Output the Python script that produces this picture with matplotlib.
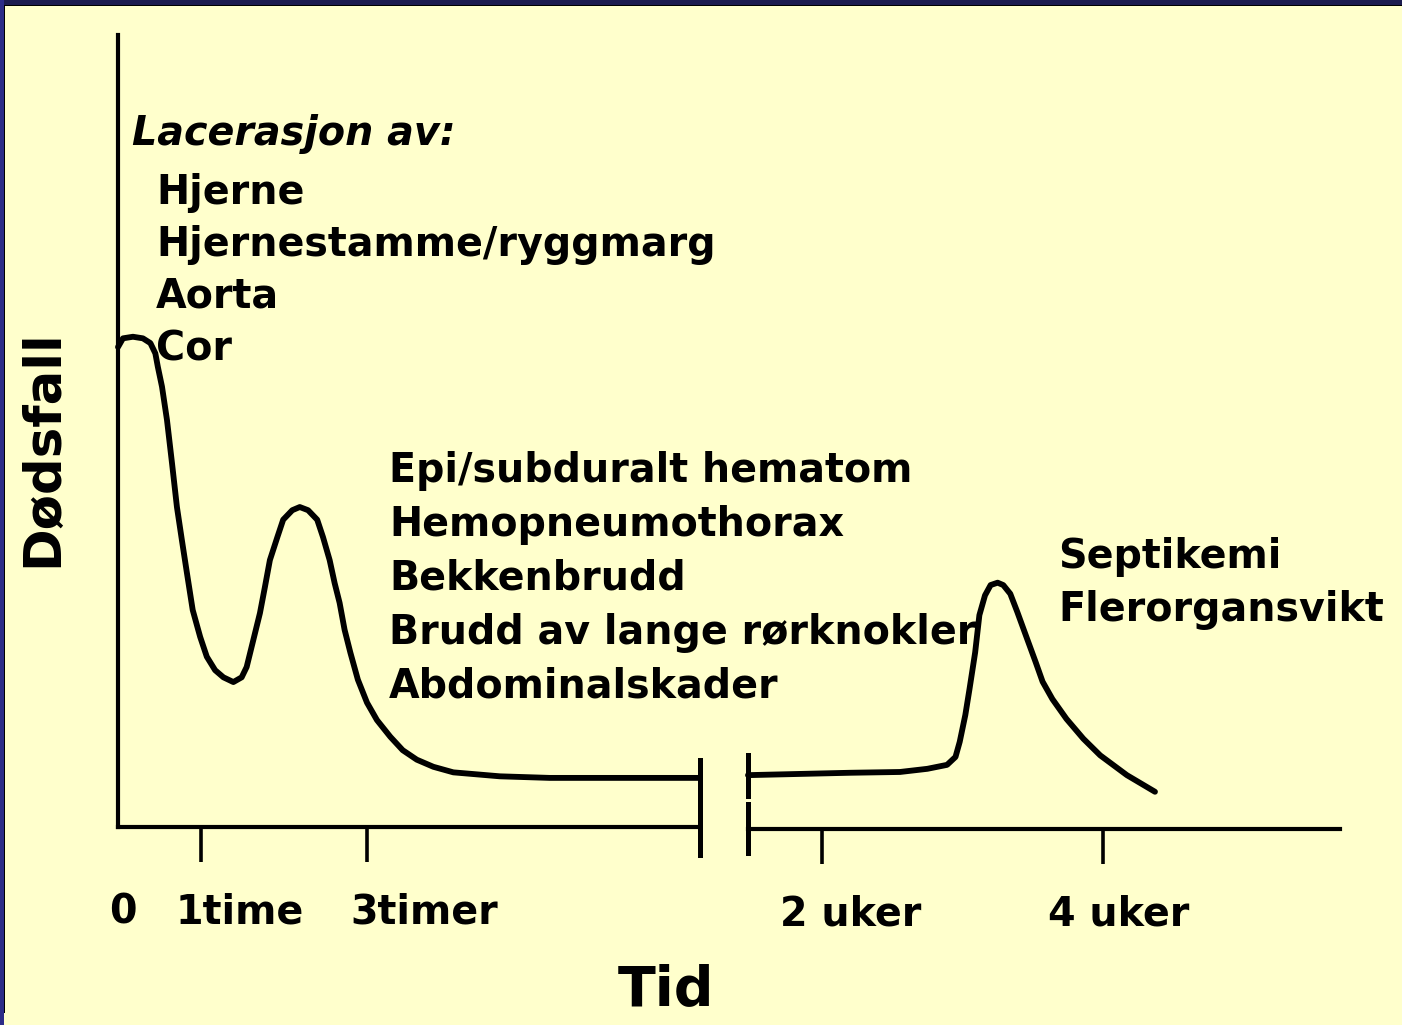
import matplotlib.pyplot as plt
from matplotlib.patches import Rectangle
import numpy as np

# curve before the break: time in hours, deaths in arbitrary units
hours = [0, 0.06, 0.18, 0.30, 0.39, 0.45, 0.48, 0.53, 0.59, 0.65, 0.71, 0.77, 0.83,
         0.90, 0.99, 1.07, 1.17, 1.27, 1.39, 1.49, 1.55, 1.63, 1.71, 1.77, 1.83,
         1.92, 1.99, 2.10, 2.19, 2.29, 2.40, 2.47, 2.55, 2.61, 2.67, 2.73, 2.80,
         2.89, 3.00, 3.12, 3.28, 3.43, 3.60, 3.80, 4.04, 4.60, 5.20, 7.01]
deaths_early = [60.6, 61.7, 61.9, 61.7, 61.1, 59.8, 58.1, 55.6, 51.4, 46.0, 40.4, 36.2, 32.1,
                27.4, 24.0, 21.5, 19.8, 18.9, 18.3, 18.9, 20.2, 23.6, 27.0, 30.3, 33.7,
                36.6, 38.8, 40.0, 40.4, 40.0, 38.8, 36.6, 33.7, 30.8, 28.3, 24.9, 22.0,
                18.6, 15.7, 13.5, 11.4, 9.7, 8.5, 7.6, 6.9, 6.4, 6.2, 6.2]

# curve after the break: time in weeks
weeks = [1.473, 2.20, 2.555, 2.75, 2.89, 2.95, 2.98, 3.02, 3.05, 3.09, 3.12, 3.16,
         3.20, 3.25, 3.29, 3.34, 3.39, 3.46, 3.52, 3.57, 3.64, 3.74, 3.86, 3.98,
         4.17, 4.37]
deaths_late = [6.8, 7.1, 7.2, 7.6, 8.1, 9.1, 11.0, 14.4, 17.7, 22.3, 27.0, 29.5,
               30.8, 31.1, 30.8, 29.7, 27.4, 24.0, 21.1, 18.6, 16.4, 13.9, 11.4, 9.3,
               6.8, 4.7]

hour_ticks = [1, 3]
hour_labels = ['1time', '3timer']
week_ticks = [2, 4]
week_labels = ['2 uker', '4 uker']

group1 = ['Hjerne', 'Hjernestamme/ryggmarg', 'Aorta', 'Cor']
group2 = ['Epi/subduralt hematom', 'Hemopneumothorax', 'Bekkenbrudd',
          'Brudd av lange rørknokler', 'Abdominalskader']
group3 = ['Septikemi', 'Flerorgansvikt']

W, H = 1402, 1025
bg = '#ffffcc'
fig = plt.figure(figsize=(W / 100, H / 100), dpi=100, facecolor=bg)
plt.rcParams['font.family'] = 'DejaVu Sans'

def fx(px):
    return px / W

def fy(py):
    return 1 - py / H

lw_axis = 3.0
lw_curve = 4.2

ax1 = fig.add_axes([fx(118), fy(827), fx(700) - fx(118), fy(35) - fy(827)])
ax2 = fig.add_axes([fx(748), fy(829), fx(1340) - fx(748), fy(35) - fy(827)])

for ax in (ax1, ax2):
    ax.set_facecolor('none')
    ax.set_ylim(0, 100)
    for s in ax.spines.values():
        s.set_linewidth(lw_axis)
    ax.spines['top'].set_visible(False)
    ax.spines['right'].set_visible(False)
    ax.set_yticks([])
    ax.tick_params(axis='x', direction='out', length=25, width=2.6, labelbottom=False)

ax2.spines['left'].set_visible(False)

ax1.set_xlim(0, 7.012)
ax2.set_xlim(1.473, 5.687)
ax1.set_xticks(hour_ticks)
ax2.set_xticks(week_ticks)

ax1.plot(hours, deaths_early, color='black', lw=lw_curve, solid_joinstyle='round',
         solid_capstyle='round', clip_on=False)
ax2.plot(weeks, deaths_late, color='black', lw=lw_curve, solid_joinstyle='round',
         solid_capstyle='round', clip_on=False)

# break marks on axis and curve
ax1.plot([7.012, 7.012], [-3.5, 3.5], color='black', lw=lw_axis + 0.6, clip_on=False)
ax2.plot([1.473, 1.473], [-3.0, 3.2], color='black', lw=lw_axis + 0.6, clip_on=False)
ax1.plot([7.012, 7.012], [deaths_early[-1] - 2.3, deaths_early[-1] + 2.3],
         color='black', lw=lw_axis + 0.6, clip_on=False)
ax2.plot([1.473, 1.473], [deaths_late[0] - 2.6, deaths_late[0] + 2.6],
         color='black', lw=lw_axis + 0.6, clip_on=False)

fs = 28.5
fw = 'bold'
# tick labels
fig.text(fx(109), fy(912), '0', fontsize=fs, fontweight=fw, va='center', ha='left')
for t, lab, left in zip(hour_ticks, hour_labels, [176, 350]):
    fig.text(fx(left), fy(913), lab, fontsize=fs, fontweight=fw, va='center', ha='left')
for t, lab, left in zip(week_ticks, week_labels, [780, 1048]):
    fig.text(fx(left), fy(915), lab, fontsize=fs, fontweight=fw, va='center', ha='left')

fig.text(fx(666), fy(990), 'Tid', fontsize=40, fontweight=fw, va='center', ha='center')
fig.text(fx(43), fy(448), 'Dødsfall', fontsize=37, fontweight=fw, va='center',
         ha='center', rotation=90)

fig.text(fx(132), fy(134), 'Lacerasjon av:', fontsize=fs, fontweight=fw, style='italic',
         va='center', ha='left')
for i, s in enumerate(group1):
    fig.text(fx(156), fy(193 + i * 52), s, fontsize=fs, fontweight=fw, va='center', ha='left')
for i, s in enumerate(group2):
    fig.text(fx(389), fy(471 + i * 54), s, fontsize=fs, fontweight=fw, va='center', ha='left')
for i, s in enumerate(group3):
    fig.text(fx(1058), fy(557 + i * 53), s, fontsize=fs, fontweight=fw, va='center', ha='left')

# dark frame at top and left
fig.patches.append(Rectangle((0, fy(5)), 1, fy(0) - fy(5), transform=fig.transFigure,
                             facecolor='#1c1c50', edgecolor='none'))
fig.patches.append(Rectangle((0, 0), fx(4), 1, transform=fig.transFigure,
                             facecolor='#2c2c88', edgecolor='none'))
fig.patches.append(Rectangle((fx(4), fy(6)), 1, fy(5) - fy(6), transform=fig.transFigure,
                             facecolor='black', edgecolor='none'))
fig.patches.append(Rectangle((fx(4), fy(1013)), fx(1), fy(5) - fy(1013), transform=fig.transFigure,
                             facecolor='black', edgecolor='none'))

fig.savefig('out.png', dpi=100, facecolor=bg)
